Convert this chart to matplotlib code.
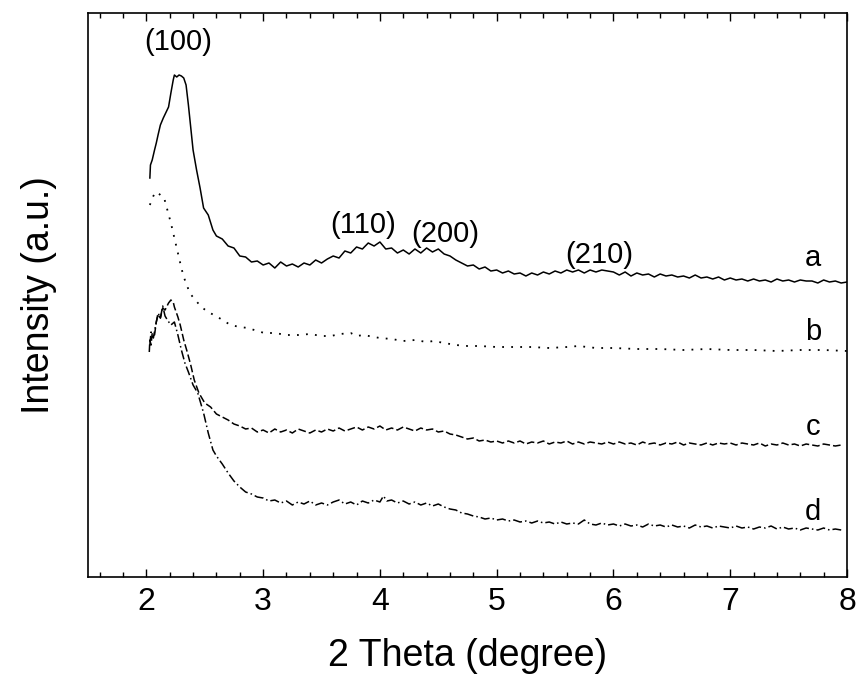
import matplotlib
matplotlib.use("Agg")
import matplotlib.pyplot as plt
from matplotlib.ticker import MultipleLocator

plt.rcParams['font.family'] = ['Liberation Sans', 'DejaVu Sans']

# curve a (solid)
x_a = [2.03, 2.035, 2.05, 2.07, 2.085, 2.10, 2.12, 2.145, 2.17, 2.19, 2.21, 2.23, 2.24, 2.26, 2.28,
       2.30, 2.32, 2.34, 2.36, 2.38, 2.40, 2.43, 2.46, 2.49, 2.53, 2.57,
       2.60, 2.65, 2.70, 2.75, 2.80, 2.85, 2.90, 2.95, 3.00, 3.05, 3.10, 3.15, 3.20, 3.25, 3.30,
       3.35, 3.40, 3.45, 3.50, 3.55, 3.60, 3.65, 3.70, 3.75, 3.80, 3.85, 3.90, 3.95, 4.00, 4.05,
       4.10, 4.15, 4.20, 4.25, 4.30, 4.35, 4.40, 4.45, 4.50, 4.55, 4.60, 4.65, 4.70, 4.75, 4.80,
       4.85, 4.90, 4.95, 5.00, 5.05, 5.10, 5.15, 5.20, 5.25, 5.30, 5.35, 5.40, 5.45, 5.50, 5.55,
       5.60, 5.65, 5.70, 5.75, 5.80, 5.85, 5.90, 5.95, 6.00, 6.05, 6.10, 6.15, 6.20, 6.25, 6.30,
       6.35, 6.40, 6.45, 6.50, 6.55, 6.60, 6.65, 6.70, 6.75, 6.80, 6.85, 6.90, 6.95, 7.00, 7.05,
       7.10, 7.15, 7.20, 7.25, 7.30, 7.35, 7.40, 7.45, 7.50, 7.55, 7.60, 7.65, 7.70, 7.75, 7.80,
       7.85, 7.90, 7.95, 8.00]
y_a = [399, 412, 417, 427, 434, 442, 452, 459, 465, 470, 484, 497, 502, 500, 502,
       501, 499, 492, 472, 450, 427, 407, 389, 369, 362, 347,
       341, 338, 331, 329, 321, 320, 315, 316, 312, 314, 309, 315, 311, 313, 310,
       314, 312, 317, 314, 318, 321, 319, 326, 324, 330, 328, 334, 331, 335, 328,
       329, 324, 327, 323, 328, 324, 329, 325, 328, 323, 321, 317, 314, 311, 312,
       308, 310, 306, 307, 304, 306, 303, 304, 301, 304, 302, 305, 303, 306, 304,
       307, 305, 307, 304, 307, 305, 307, 306, 305, 302, 305, 301, 304, 302, 303,
       300, 303, 301, 302, 300, 301, 299, 302, 299, 300, 298, 300, 297, 299, 297,
       298, 296, 298, 296, 297, 295, 298, 296, 297, 295, 297, 296, 296, 294, 297,
       295, 296, 294, 295]

# curve b (dotted)
x_b = [2.03, 2.045, 2.06, 2.08, 2.10, 2.12, 2.15, 2.18, 2.21, 2.24, 2.27, 2.30, 2.32, 2.35, 2.37,
       2.42, 2.47, 2.53, 2.61, 2.68, 2.72, 2.80, 2.87, 2.95, 3.01, 3.10, 3.20, 3.30, 3.40, 3.50,
       3.58, 3.66, 3.75, 3.80, 3.86, 3.95, 4.00, 4.10, 4.20, 4.30, 4.40, 4.46, 4.55, 4.65, 4.75,
       4.85, 5.00, 5.15, 5.30, 5.45, 5.60, 5.70, 5.85, 6.00, 6.20, 6.40, 6.60, 6.80, 7.00, 7.20,
       7.40, 7.60, 7.80, 8.00]
y_b = [372, 377, 381, 385, 384, 382, 380, 367, 354, 339, 324, 309, 300, 291, 284,
       277, 270, 265, 260, 255, 252, 250, 249, 246, 244, 244, 242, 242, 243, 241,
       241, 243, 244, 241, 242, 240, 239, 238, 236, 237, 235, 236, 234, 232, 231,
       231, 230, 230, 230, 229, 230, 231, 229, 229, 228, 228, 227, 228, 227, 227,
       226, 227, 227, 226]

# curve c (dashed)
x_c = [2.025, 2.03, 2.04, 2.05, 2.07, 2.085, 2.10, 2.12, 2.14, 2.16, 2.19, 2.21, 2.23, 2.24, 2.27,
       2.29, 2.32, 2.35, 2.38, 2.41, 2.45, 2.47, 2.50, 2.55,
       2.60, 2.65, 2.70, 2.75, 2.80, 2.85, 2.90, 2.95, 3.00, 3.05, 3.10, 3.15, 3.20, 3.25, 3.30,
       3.35, 3.40, 3.45, 3.50, 3.55, 3.60, 3.65, 3.70, 3.75, 3.80, 3.85, 3.90, 3.95, 4.00, 4.05,
       4.10, 4.15, 4.20, 4.25, 4.30, 4.35, 4.40, 4.45, 4.50, 4.55, 4.60, 4.65, 4.70, 4.75, 4.80,
       4.85, 4.90, 4.95, 5.00, 5.05, 5.10, 5.15, 5.20, 5.25, 5.30, 5.35, 5.40, 5.45, 5.50, 5.55,
       5.60, 5.65, 5.70, 5.75, 5.80, 5.85, 5.90, 5.95, 6.00, 6.05, 6.10, 6.15, 6.20, 6.25, 6.30,
       6.35, 6.40, 6.45, 6.50, 6.55, 6.60, 6.65, 6.70, 6.75, 6.80, 6.85, 6.90, 6.95, 7.00, 7.05,
       7.10, 7.15, 7.20, 7.25, 7.30, 7.35, 7.40, 7.45, 7.50, 7.55, 7.60, 7.65, 7.70, 7.75, 7.80,
       7.85, 7.90, 7.95]
y_c = [225, 237, 232, 244, 242, 255, 262, 259, 269, 267, 274, 277, 275, 270, 260,
       252, 237, 225, 212, 197, 184, 180, 174, 170,
       163, 160, 157, 153, 151, 148, 149, 145, 147, 144, 148, 145, 147, 144, 148,
       146, 144, 147, 145, 148, 146, 149, 146, 148, 150, 147, 150, 148, 151, 147,
       149, 147, 150, 148, 146, 149, 147, 148, 145, 146, 143, 142, 140, 138, 139,
       136, 137, 135, 136, 134, 136, 134, 136, 133, 135, 134, 136, 133, 135, 134,
       136, 133, 135, 133, 135, 134, 133, 135, 133, 135, 133, 134, 132, 135, 133,
       134, 132, 134, 133, 135, 132, 134, 133, 132, 134, 132, 134, 133, 134, 132,
       134, 133, 132, 134, 131, 133, 132, 134, 132, 133, 131, 133, 132, 131, 133,
       132, 131, 132]

# curve d (dash-dot)
x_d = [2.03, 2.04, 2.06, 2.08, 2.10, 2.12, 2.14, 2.16, 2.18, 2.21, 2.24, 2.27, 2.30, 2.33, 2.36,
       2.40, 2.44, 2.47, 2.49, 2.53, 2.57,
       2.60, 2.65, 2.70, 2.75, 2.80, 2.85, 2.90, 2.95, 3.00, 3.05, 3.10, 3.15, 3.20, 3.25, 3.30,
       3.35, 3.40, 3.45, 3.50, 3.55, 3.60, 3.65, 3.70, 3.75, 3.80, 3.85, 3.90, 3.95, 4.00, 4.03,
       4.06, 4.10, 4.15, 4.20, 4.25, 4.30, 4.35, 4.40, 4.45, 4.50, 4.55, 4.60, 4.65, 4.70, 4.75,
       4.80, 4.85, 4.90, 4.95, 5.00, 5.05, 5.10, 5.15, 5.20, 5.25, 5.30, 5.35, 5.40, 5.45, 5.50,
       5.55, 5.60, 5.65, 5.70, 5.75, 5.80, 5.85, 5.90, 5.95, 6.00, 6.05, 6.10, 6.15, 6.20, 6.25,
       6.30, 6.35, 6.40, 6.45, 6.50, 6.55, 6.60, 6.65, 6.70, 6.75, 6.80, 6.85, 6.90, 6.95, 7.00,
       7.05, 7.10, 7.15, 7.20, 7.25, 7.30, 7.35, 7.40, 7.45, 7.50, 7.55, 7.60, 7.65, 7.70, 7.75,
       7.80, 7.85, 7.90, 7.95]
y_d = [232, 245, 239, 252, 264, 259, 271, 261, 257, 252, 255, 242, 227, 214, 205,
       192, 184, 172, 164, 144, 127,
       121, 113, 104, 96, 90, 85, 83, 80, 79, 76, 77, 74, 76, 72, 75,
       73, 76, 72, 74, 72, 75, 77, 73, 75, 72, 76, 74, 77, 75, 81,
       76, 77, 74, 76, 73, 75, 72, 74, 71, 73, 70, 68, 67, 64, 63,
       61, 60, 58, 59, 57, 58, 56, 57, 55, 56, 54, 56, 54, 55, 53,
       55, 53, 54, 53, 57, 53, 52, 54, 52, 53, 51, 53, 51, 52, 50,
       53, 51, 52, 50, 52, 50, 51, 49, 52, 50, 51, 49, 51, 50, 49,
       51, 49, 50, 48, 50, 49, 51, 48, 50, 48, 49, 47, 49, 48, 47,
       49, 47, 48, 47]

peak_labels = ['(100)', '(110)', '(200)', '(210)']
peak_x = [2.27, 3.86, 4.56, 5.88]
peak_y = [535, 352, 343, 322]

curve_names = ['a', 'b', 'c', 'd']
name_x = 7.71
name_y = [319, 245, 150, 65]

fig = plt.figure(figsize=(8.6, 6.77), dpi=100)
ax = fig.add_axes([0.1023, 0.1477, 0.8826, 0.8331])

ax.plot(x_a, y_a, color='black', lw=1.1, ls='-')
ax.plot(x_b, y_b, color='black', lw=1.3, ls=(0, (1, 4)))
ax.plot(x_c, y_c, color='black', lw=1.1, ls=(0, (5, 2)))
ax.plot(x_d, y_d, color='black', lw=1.1, ls=(0, (6, 2, 1, 2)))

for lab, px, py in zip(peak_labels, peak_x, peak_y):
    ax.text(px, py, lab, fontsize=21, ha='center', va='center')
for lab, py in zip(curve_names, name_y):
    ax.text(name_x, py, lab, fontsize=21, ha='center', va='center')

ax.set_xlim(1.5, 8)
ax.set_ylim(0, 564)
ax.xaxis.set_major_locator(MultipleLocator(1))
ax.xaxis.set_minor_locator(MultipleLocator(0.2))
ax.set_yticks([])
ax.tick_params(axis='x', which='both', direction='in', top=True, bottom=True, labelsize=23, pad=7)
ax.tick_params(axis='x', which='major', length=6, width=1)
ax.tick_params(axis='x', which='minor', length=3.5, width=1)
for s in ax.spines.values():
    s.set_linewidth(1.2)

ax.set_xlabel('2 Theta (degree)', fontsize=27, labelpad=15)
ax.set_ylabel('Intensity (a.u.)', fontsize=27, labelpad=22)

plt.savefig('out.png', dpi=100)
plt.close()
